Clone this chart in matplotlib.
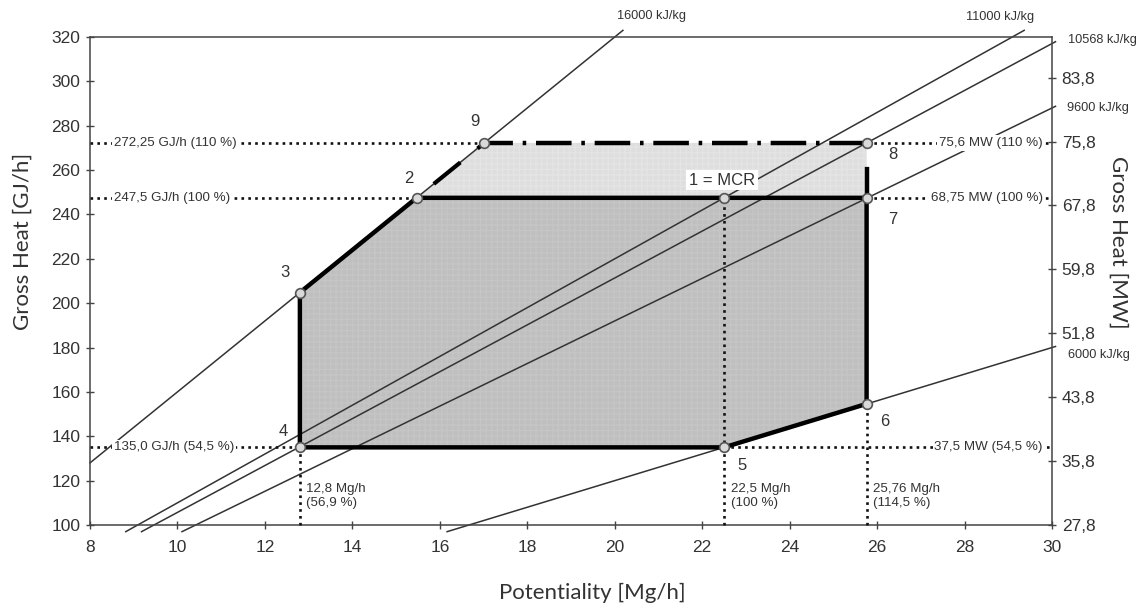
import matplotlib
matplotlib.use('Agg')
import matplotlib.pyplot as plt
import numpy as np

# ---------------- data ----------------
x_ticks = list(range(8, 31, 2))
y_ticks = list(range(100, 321, 20))
mw_ticks = [27.8, 35.8, 43.8, 51.8, 59.8, 67.8, 75.8, 83.8]
mw_tick_labels = ['27,8', '35,8', '43,8', '51,8', '59,8', '67,8', '75,8', '83,8']

heating_values = [16000, 11000, 10568, 9600, 6000]          # kJ/kg
heating_labels = ['16000 kJ/kg', '11000 kJ/kg', '10568 kJ/kg', '9600 kJ/kg', '6000 kJ/kg']

point_names = ['1 = MCR', '2', '3', '4', '5', '6', '7', '8', '9']
point_x = [22.5, 15.47, 12.8, 12.8, 22.5, 25.76, 25.76, 25.76, 17.02]
point_y = [247.5, 247.5, 204.8, 135.0, 135.0, 154.6, 247.5, 272.25, 272.25]

heat_levels = [272.25, 247.5, 135.0]
heat_left_labels = ['272,25 GJ/h (110 %)', '247,5 GJ/h (100 %)', '135,0 GJ/h (54,5 %)']
heat_right_labels = ['75,6 MW (110 %)', '68,75 MW (100 %)', '37,5 MW (54,5 %)']
flow_levels = [12.8, 22.5, 25.76]
flow_labels = ['12,8 Mg/h\n(56,9 %)', '22,5 Mg/h\n(100 %)', '25,76 Mg/h\n(114,5 %)']

GJ_PER_MWH = 3.6

# ---------------- style ----------------
FONT = ['Liberation Sans', 'DejaVu Sans']
LABEL_FONT = ['Lato', 'DejaVu Sans']
TXT = '#333333'
LINE = '#333333'
DOT = (0, (1.0, 1.6))

P = {n: (x, y) for n, x, y in zip(point_names, point_x, point_y)}

fig = plt.figure(figsize=(11.42, 6.08), dpi=100)
ax = fig.add_axes([90 / 1142, 1 - 525 / 608, (1052 - 90) / 1142, (525 - 37) / 608])
ax.set_xlim(x_ticks[0], x_ticks[-1])
ax.set_ylim(y_ticks[0], y_ticks[-1])

# regions
dark_poly = [P[k] for k in ['4', '3', '2', '7', '6', '5']]
light_poly = [P[k] for k in ['2', '9', '8', '7']]
ax.fill([p[0] for p in light_poly], [p[1] for p in light_poly], facecolor='#dedede',
        edgecolor='#e4e4e4', hatch='+++', linewidth=0, zorder=1)
ax.fill([p[0] for p in dark_poly], [p[1] for p in dark_poly], facecolor='#bfbfbf',
        edgecolor='#c5c5c5', hatch='+++', linewidth=0, zorder=1)

# calorific value lines (y = hv * x / 1000)
y_lo, y_hi, x_hi = 97.0, 323.0, 30.08
for hv in heating_values:
    s = hv / 1000.0
    x0 = max(x_ticks[0], y_lo / s)
    x1 = min(x_hi, y_hi / s)
    xs = np.array([x0, x1])
    ax.plot(xs, s * xs, color=LINE, lw=1.1, zorder=2, clip_on=False)

# line labels
lbl_pos = {16000: (20.85, 329.5, 'center'), 11000: (28.81, 329.0, 'center'),
           10568: (30.36, 318.7, 'left'), 9600: (30.34, 288.0, 'left'),
           6000: (30.36, 176.6, 'left')}
for hv, lab in zip(heating_values, heating_labels):
    x, y, ha = lbl_pos[hv]
    ax.text(x, y, lab, ha=ha, va='center', fontsize=9.2, family=FONT, color=TXT,
            clip_on=False)

# dotted guide lines
left_end = {272.25: P['9'][0], 247.5: P['2'][0], 135.0: P['4'][0]}
right_start = {272.25: P['8'][0], 247.5: P['7'][0], 135.0: P['5'][0]}
for lvl in heat_levels:
    ax.plot([x_ticks[0], left_end[lvl]], [lvl, lvl], color='#111111', lw=1.9,
            linestyle=DOT, zorder=3, clip_on=False)
    ax.plot([right_start[lvl], x_ticks[-1]], [lvl, lvl], color='#111111', lw=1.9,
            linestyle=DOT, zorder=3, clip_on=False)
flow_top = {12.8: P['4'][1], 22.5: P['1 = MCR'][1], 25.76: P['6'][1]}
for f in flow_levels:
    ax.plot([f, f], [y_ticks[0], flow_top[f]], color='#111111', lw=1.9,
            linestyle=DOT, zorder=3, clip_on=False)

# thick boundary
bnd = [P[k] for k in ['4', '3', '2', '7', '6', '5', '4']]
ax.plot([p[0] for p in bnd], [p[1] for p in bnd], color='black', lw=3.2,
        solid_joinstyle='miter', zorder=4)
ax.plot([P['2'][0], P['9'][0]], [P['2'][1], P['9'][1]], color='black', lw=3.0,
        linestyle=(8.2, (8.2, 5.3)), zorder=4)
ax.plot([P['7'][0], P['8'][0]], [P['7'][1], P['8'][1]], color='black', lw=3.2,
        linestyle=(0, (7.0, 20)), zorder=4)
ax.plot([P['9'][0], P['8'][0]], [P['9'][1], P['8'][1]], color='black', lw=3.2,
        linestyle=(1.5, (8, 2.2, 0.8, 2.2)), zorder=4)

# markers
ax.plot(point_x, point_y, linestyle='none', marker='o', markersize=7,
        markerfacecolor='#d9d9d9', markeredgecolor='#555555', markeredgewidth=1.2,
        zorder=5, clip_on=False)

# point labels (offsets in px)
offs = {'1 = MCR': (-2, 17.7), '2': (-8, 19.7), '3': (-15, 20.4), '4': (-17, 15.5),
        '5': (18, -17.7), '6': (18, -18), '7': (26, -22), '8': (26, -12), '9': (-9, 21.6)}
for n in point_names:
    dx, dy = offs[n]
    kw = {}
    if n == '1 = MCR':
        kw['bbox'] = dict(facecolor='white', edgecolor='none', pad=2.0)
    ax.annotate(n, P[n], xytext=(dx * 0.72, dy * 0.72), textcoords='offset points',
                ha='center', va='center', fontsize=12, family=FONT, color=TXT,
                zorder=6, **kw)

# heat level labels
wb = dict(facecolor='white', edgecolor='none', pad=1.2)
for lvl, ll, rl in zip(heat_levels, heat_left_labels, heat_right_labels):
    ax.text(8.55, lvl, ll, ha='left', va='center', fontsize=9.6, family=FONT,
            color=TXT, bbox=wb, zorder=6)
    ax.text(29.79, lvl, rl, ha='right', va='center', fontsize=9.6, family=FONT,
            color=TXT, bbox=wb, zorder=6)

# flow labels
for f, lab in zip(flow_levels, flow_labels):
    ax.text(f + 0.15, 113.1, lab, ha='left', va='center', fontsize=9.6, family=FONT,
            color=TXT, linespacing=1.2, zorder=6)

# axes styling
for sp in ax.spines.values():
    sp.set_color('#444444')
    sp.set_linewidth(1.1)
ax.set_xticks(x_ticks)
ax.set_yticks(y_ticks)
ax.tick_params(direction='inout', length=6, width=1, color='#444444',
               labelsize=12.5, labelcolor=TXT)
ax.tick_params(axis='x', pad=8)
ax.tick_params(axis='y', pad=4)
for t in ax.get_xticklabels() + ax.get_yticklabels():
    t.set_family(FONT)

ax2 = ax.twinx()
ax2.set_ylim(y_ticks[0] / GJ_PER_MWH, y_ticks[-1] / GJ_PER_MWH)
ax2.set_yticks(mw_ticks)
ax2.set_yticklabels(mw_tick_labels)
ax2.tick_params(direction='inout', length=6, width=1, color='#444444',
                labelsize=12.5, labelcolor=TXT, pad=4)
for t in ax2.get_yticklabels():
    t.set_family(FONT)
for sp in ax2.spines.values():
    sp.set_visible(False)

fig.text(592 / 1142, 1 - 593 / 608, 'Potentiality [Mg/h]', ha='center', va='center',
         fontsize=16, family=LABEL_FONT, color=TXT)
fig.text(23 / 1142, 1 - 241 / 608, 'Gross Heat [GJ/h]', ha='center', va='center',
         rotation=90, fontsize=16, family=LABEL_FONT, color=TXT)
fig.text(1118 / 1142, 1 - 242 / 608, 'Gross Heat [MW]', ha='center', va='center',
         rotation=270, fontsize=16, family=LABEL_FONT, color=TXT)

fig.savefig('out.png', dpi=100, facecolor='white')
